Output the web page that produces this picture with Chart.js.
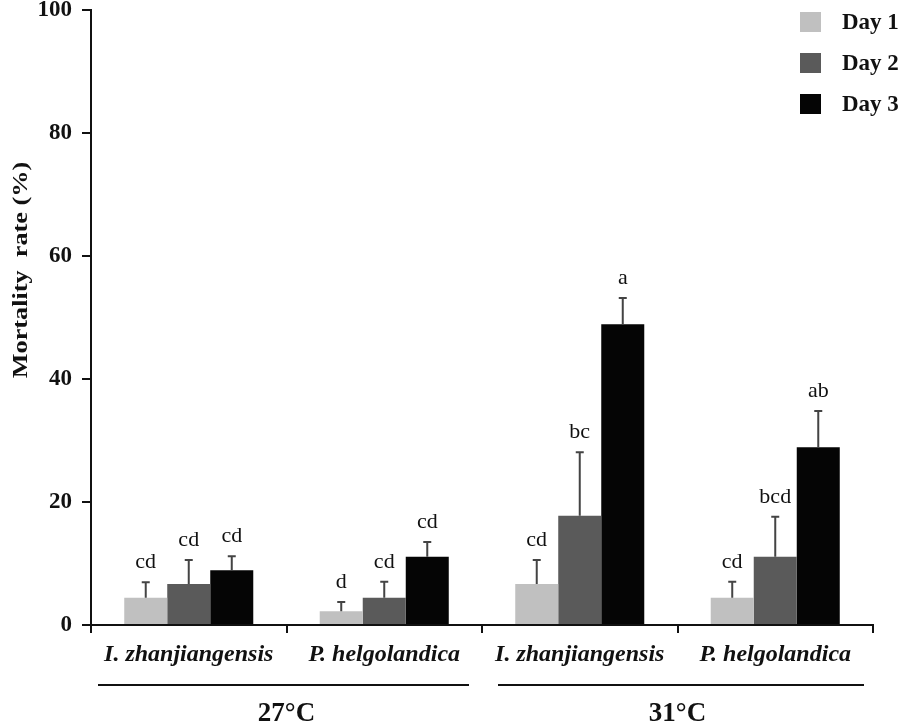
<!DOCTYPE html>
<html>
<head>
<meta charset="utf-8">
<script src="https://cdn.jsdelivr.net/npm/chart.js@4/dist/chart.umd.min.js"></script>
<style>
  html, body { margin: 0; padding: 0; background: #fff; }
  #wrap { width: 905px; height: 725px; }
</style>
</head>
<body>
<div id="wrap"><canvas id="mortality-chart"></canvas></div>
<script>
/* data */
let categories = ['I. zhanjiangensis', 'P. helgolandica', 'I. zhanjiangensis', 'P. helgolandica']
let temps = ['27°C', '31°C']
let dayLabels = ['Day 1', 'Day 2', 'Day 3']

let day1 = [4.44, 2.22, 6.67, 4.44]
let day2 = [6.67, 4.44, 17.78, 11.11]
let day3 = [8.89, 11.11, 48.89, 28.89]

let err1 = [2.5, 1.5, 3.9, 2.6]
let err2 = [3.9, 2.6, 10.3, 6.5]
let err3 = [2.3, 2.4, 4.3, 5.9]

let letters1 = ['cd', 'd', 'cd', 'cd']
let letters2 = ['cd', 'cd', 'bc', 'bcd']
let letters3 = ['cd', 'cd', 'a', 'ab']

let yTicks = [0, 20, 40, 60, 80, 100]

let colors = ['#c0c0c0', '#5a5a5a', '#050505']
let serif = '"Liberation Serif", "Times New Roman", serif'

let errors = [err1, err2, err3]
let letters = [letters1, letters2, letters3]

// error bars + significance letters
let errorBarPlugin = {
    id: 'errorBars',
    afterDatasetsDraw(chart) {
        let ctx = chart.ctx
        let y = chart.scales.y
        ctx.save()
        chart.data.datasets.forEach((ds, i) => {
            let meta = chart.getDatasetMeta(i)
            meta.data.forEach((bar, j) => {
                let top = y.getPixelForValue(ds.data[j] + errors[i][j])
                ctx.strokeStyle = '#444'
                ctx.lineWidth = 2
                ctx.beginPath()
                ctx.moveTo(bar.x, bar.y)
                ctx.lineTo(bar.x, top)
                ctx.moveTo(bar.x - 4, top)
                ctx.lineTo(bar.x + 4, top)
                ctx.stroke()

                ctx.fillStyle = '#111'
                ctx.font = '22px ' + serif
                ctx.textAlign = 'center'
                ctx.textBaseline = 'alphabetic'
                ctx.fillText(letters[i][j], bar.x, top - 14)
            })
        })
        ctx.restore()
    }
}

// legend, group lines, temperature labels, y title
let decorPlugin = {
    id: 'decor',
    afterDraw(chart) {
        let ctx = chart.ctx
        let area = chart.chartArea
        ctx.save()

        // legend top right
        chart.data.datasets.forEach((ds, i) => {
            let top = 12 + i * 41
            ctx.fillStyle = ds.backgroundColor
            ctx.fillRect(800, top, 21, 20)
            ctx.fillStyle = '#111'
            ctx.font = 'bold 23px ' + serif
            ctx.textAlign = 'left'
            ctx.textBaseline = 'middle'
            ctx.fillText(ds.label, 842, top + 11)
        })

        // group lines under species names
        let catW = (area.right - area.left) / categories.length
        temps.forEach((t, g) => {
            let left = area.left + g * 2 * catW
            let right = left + 2 * catW
            ctx.strokeStyle = '#111'
            ctx.lineWidth = 2
            ctx.beginPath()
            ctx.moveTo(left + (g == 0 ? 7 : 16), 685)
            ctx.lineTo(right - (g == 0 ? 13 : 9), 685)
            ctx.stroke()

            ctx.fillStyle = '#111'
            ctx.font = 'bold 27px ' + serif
            ctx.textAlign = 'center'
            ctx.textBaseline = 'alphabetic'
            ctx.fillText(t, (left + right) / 2, 721)
        })

        // y axis title, a little stretched like the original
        ctx.translate(27, 270)
        ctx.rotate(-Math.PI / 2)
        ctx.scale(1.25, 1)
        ctx.fillStyle = '#111'
        ctx.font = 'bold 21px ' + serif
        ctx.textAlign = 'center'
        ctx.textBaseline = 'alphabetic'
        ctx.fillText('Mortality  rate (%)', 0, 0)
        ctx.restore()
    }
}

let ctx = document.querySelector('#mortality-chart').getContext('2d')

let mortalityChart = new Chart(ctx, {
    type: 'bar',
    data: {
        labels: categories,
        datasets: [
            { label: dayLabels[0], data: day1, backgroundColor: colors[0] },
            { label: dayLabels[1], data: day2, backgroundColor: colors[1] },
            { label: dayLabels[2], data: day3, backgroundColor: colors[2] }
        ]
    },
    options: {
        responsive: true,
        maintainAspectRatio: false,
        animation: false,
        categoryPercentage: 0.66,
        barPercentage: 1.0,
        layout: { padding: { top: 10, right: 32, left: 0, bottom: 0 } },
        plugins: {
            legend: { display: false },
            tooltip: { enabled: false }
        },
        scales: {
            x: {
                offset: true,
                grid: { offset: true, drawOnChartArea: false, tickLength: 8, color: '#111', lineWidth: 2 },
                border: { display: true, color: '#111', width: 2 },
                ticks: {
                    color: '#111',
                    padding: 7,
                    maxRotation: 0,
                    font: { family: serif, size: 24, weight: 'bold', style: 'italic' }
                },
                afterFit(scale) { scale.height = 100 }
            },
            y: {
                min: 0,
                max: 100,
                afterBuildTicks(scale) { scale.ticks = yTicks.map(v => ({ value: v })) },
                grid: { drawOnChartArea: false, tickLength: 9, color: '#111', lineWidth: 2 },
                border: { display: true, color: '#111', width: 2 },
                ticks: {
                    color: '#111',
                    padding: 10,
                    font: { family: serif, size: 23, weight: 'bold' }
                },
                afterFit(scale) {
                    scale.width = 91
                    scale.paddingTop = 0
                    scale.paddingBottom = 0
                }
            }
        }
    },
    plugins: [errorBarPlugin, decorPlugin]
})
</script>
</body>
</html>
